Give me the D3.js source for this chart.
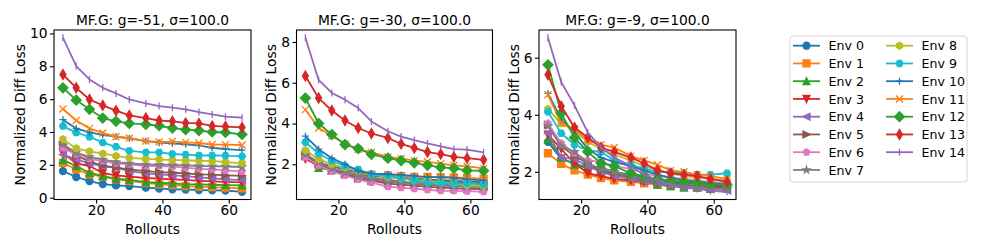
<!DOCTYPE html>
<meta charset="utf-8">
<title>Normalized Diff Loss vs Rollouts</title>
<style>
  body { margin: 0; background: #fff; }
  text { font-family: "DejaVu Sans", sans-serif; fill: #000; }
</style>
<body>
<div id="chart"></div>
<script src="https://cdn.jsdelivr.net/npm/d3@7"></script>
<script>
// ---- data ----
const rollouts = [10, 14, 18, 22, 26, 30, 35, 39, 43, 47, 51, 55, 59, 64];
const envNames = ["Env 0", "Env 1", "Env 2", "Env 3", "Env 4", "Env 5", "Env 6", "Env 7",
                  "Env 8", "Env 9", "Env 10", "Env 11", "Env 12", "Env 13", "Env 14"];
const panelTitles = ["MF.G: g=-51, σ=100.0", "MF.G: g=-30, σ=100.0", "MF.G: g=-9, σ=100.0"];
const xTicks = [20, 40, 60];
const yTicks = [[0, 2, 4, 6, 8, 10], [2, 4, 6, 8], [2, 4, 6]];

const lossG51 = [
  [1.62, 1.26, 1.01, 0.83, 0.75, 0.71, 0.61, 0.56, 0.51, 0.50, 0.47, 0.45, 0.44, 0.36],
  [2.12, 1.72, 1.42, 1.28, 1.12, 1.01, 0.91, 0.82, 0.77, 0.71, 0.67, 0.65, 0.61, 0.57],
  [2.29, 1.93, 1.52, 1.32, 1.16, 1.08, 0.95, 0.91, 0.87, 0.81, 0.81, 0.79, 0.77, 0.75],
  [2.72, 2.09, 1.93, 1.50, 1.36, 1.28, 1.20, 1.16, 1.12, 1.08, 1.03, 0.99, 0.97, 0.93],
  [2.62, 2.33, 2.09, 1.93, 1.83, 1.62, 1.48, 1.42, 1.36, 1.32, 1.24, 1.18, 1.12, 1.07],
  [3.22, 2.54, 2.23, 1.93, 1.83, 1.72, 1.62, 1.56, 1.52, 1.48, 1.42, 1.40, 1.36, 1.33],
  [3.02, 2.64, 2.37, 2.23, 2.09, 2.03, 1.93, 1.93, 1.89, 1.83, 1.76, 1.72, 1.66, 1.60],
  [3.25, 2.74, 2.49, 2.33, 2.17, 2.09, 2.03, 2.01, 1.99, 1.97, 1.93, 1.92, 1.90, 1.87],
  [3.56, 3.00, 2.82, 2.68, 2.54, 2.43, 2.37, 2.33, 2.29, 2.28, 2.25, 2.24, 2.17, 2.11],
  [4.36, 3.96, 3.71, 3.35, 3.10, 2.85, 2.76, 2.76, 2.66, 2.62, 2.58, 2.57, 2.56, 2.52],
  [4.75, 4.22, 3.98, 3.83, 3.72, 3.62, 3.45, 3.35, 3.31, 3.25, 3.18, 3.04, 2.96, 2.90],
  [5.40, 4.70, 4.22, 3.94, 3.71, 3.63, 3.45, 3.39, 3.42, 3.37, 3.33, 3.24, 3.23, 3.21],
  [6.69, 5.94, 5.38, 4.85, 4.65, 4.52, 4.46, 4.38, 4.24, 4.14, 4.09, 4.00, 3.97, 3.85],
  [7.50, 6.69, 5.98, 5.62, 5.30, 5.01, 4.85, 4.70, 4.65, 4.55, 4.52, 4.37, 4.33, 4.28],
  [9.74, 8.01, 7.20, 6.69, 6.35, 5.98, 5.74, 5.58, 5.48, 5.38, 5.21, 5.07, 4.93, 4.87]
];
const lossG30 = [
  [2.45, 2.10, 1.90, 1.75, 1.58, 1.45, 1.40, 1.35, 1.30, 1.25, 1.22, 1.20, 1.15, 1.12],
  [2.45, 2.00, 1.78, 1.62, 1.52, 1.48, 1.45, 1.42, 1.38, 1.38, 1.37, 1.36, 1.33, 1.30],
  [2.40, 1.82, 1.72, 1.60, 1.45, 1.42, 1.38, 1.30, 1.25, 1.20, 1.15, 1.12, 1.08, 1.05],
  [2.25, 1.95, 1.75, 1.55, 1.40, 1.25, 1.15, 1.10, 1.05, 1.00, 0.98, 0.95, 0.92, 0.90],
  [2.50, 2.05, 1.80, 1.60, 1.45, 1.35, 1.25, 1.15, 1.10, 1.05, 1.00, 0.98, 0.95, 0.92],
  [2.45, 2.00, 1.70, 1.50, 1.30, 1.20, 1.05, 1.00, 0.95, 0.90, 0.85, 0.82, 0.80, 0.78],
  [2.35, 1.95, 1.65, 1.45, 1.25, 1.10, 0.90, 0.85, 0.80, 0.75, 0.70, 0.70, 0.68, 0.65],
  [2.50, 2.10, 1.80, 1.60, 1.40, 1.30, 1.15, 1.10, 1.05, 1.00, 0.95, 0.92, 0.90, 0.88],
  [2.69, 2.25, 2.00, 1.84, 1.67, 1.51, 1.38, 1.31, 1.21, 1.18, 1.10, 1.05, 0.98, 0.93],
  [3.08, 2.53, 2.17, 1.92, 1.75, 1.51, 1.43, 1.34, 1.21, 1.10, 1.10, 1.05, 1.05, 1.01],
  [3.38, 2.74, 2.30, 2.00, 1.67, 1.54, 1.51, 1.48, 1.43, 1.37, 1.37, 1.34, 1.26, 1.21],
  [4.68, 3.78, 3.40, 2.99, 2.74, 2.58, 2.36, 2.28, 2.18, 2.12, 2.03, 1.95, 1.90, 1.80],
  [5.25, 4.00, 3.46, 2.97, 2.77, 2.49, 2.30, 2.18, 2.07, 1.95, 1.85, 1.80, 1.70, 1.68],
  [6.33, 5.25, 4.64, 4.15, 3.78, 3.51, 3.29, 3.00, 2.80, 2.60, 2.50, 2.36, 2.30, 2.22],
  [8.21, 6.14, 5.50, 5.17, 4.76, 4.10, 3.62, 3.36, 3.18, 3.02, 2.88, 2.74, 2.72, 2.58]
];
const lossG9 = [
  [3.05, 2.45, 2.30, 2.10, 2.15, 2.00, 1.90, 1.80, 1.70, 1.65, 1.60, 1.60, 1.55, 1.50],
  [2.65, 2.28, 2.05, 1.90, 1.78, 1.70, 1.65, 1.60, 1.55, 1.50, 1.50, 1.45, 1.45, 1.45],
  [3.15, 2.50, 2.25, 2.20, 2.05, 1.90, 1.80, 1.70, 1.55, 1.50, 1.45, 1.45, 1.40, 1.40],
  [3.30, 2.80, 2.30, 1.95, 1.85, 1.75, 1.70, 1.65, 1.60, 1.55, 1.55, 1.50, 1.50, 1.50],
  [3.35, 2.50, 2.45, 2.20, 2.00, 1.85, 1.75, 1.65, 1.60, 1.55, 1.50, 1.45, 1.40, 1.35],
  [3.65, 2.90, 2.55, 2.30, 2.05, 1.95, 1.85, 1.70, 1.65, 1.60, 1.55, 1.50, 1.45, 1.45],
  [3.70, 3.00, 2.65, 2.40, 2.35, 2.20, 2.10, 1.95, 1.85, 1.80, 1.75, 1.70, 1.65, 1.60],
  [3.60, 2.90, 2.70, 2.30, 2.10, 2.00, 1.85, 1.75, 1.65, 1.55, 1.50, 1.45, 1.40, 1.40],
  [4.20, 3.70, 3.45, 3.05, 2.80, 2.60, 2.40, 2.20, 2.05, 1.95, 1.85, 1.80, 1.75, 1.70],
  [4.10, 3.35, 2.95, 2.75, 2.70, 2.40, 2.25, 2.10, 2.00, 2.00, 1.95, 1.90, 1.90, 1.95],
  [4.75, 3.85, 3.40, 2.80, 2.50, 2.35, 2.20, 2.05, 1.90, 1.80, 1.70, 1.65, 1.60, 1.55],
  [4.70, 3.70, 3.50, 3.10, 2.95, 2.85, 2.55, 2.40, 2.25, 2.05, 2.00, 1.90, 1.85, 1.75],
  [5.75, 4.05, 3.20, 2.70, 2.30, 2.20, 1.95, 1.85, 1.75, 1.70, 1.65, 1.60, 1.55, 1.55],
  [5.40, 4.30, 3.55, 3.20, 2.85, 2.70, 2.50, 2.30, 2.05, 1.95, 1.90, 1.85, 1.75, 1.65],
  [6.70, 5.15, 4.33, 3.38, 2.85, 2.50, 2.20, 1.90, 1.70, 1.55, 1.45, 1.40, 1.33, 1.30]
];
const panelData = [lossG51, lossG30, lossG9];

// ---- style ----
const width = 997, height = 249;
const colors = ["#1f77b4", "#ff7f0e", "#2ca02c", "#d62728", "#9467bd",
                "#8c564b", "#e377c2", "#7f7f7f", "#bcbd22", "#17becf",
                "#1f77b4", "#ff7f0e", "#2ca02c", "#d62728", "#9467bd"];
const markers = ["o", "s", "^", "v", "<", ">", "p", "*", "h", "H", "+", "x", "D", "d", "|"];
const fontSize = 13.8;
const legendFont = 12.6;
const ms = 7; // marker size px

// axes boxes [left, right, top, bottom]
const boxes = [[54, 251, 30, 199.5], [296.5, 492.5, 30, 199.5], [539, 736, 30, 199.5]];

const svg = d3.select("#chart").append("svg")
  .attr("width", width).attr("height", height);

function polyPath(n, r, rot) {
  const pts = d3.range(n).map(i => {
    const a = rot + i * 2 * Math.PI / n;
    return [r * Math.sin(a), -r * Math.cos(a)];
  });
  return "M" + pts.map(p => p[0].toFixed(2) + "," + p[1].toFixed(2)).join("L") + "Z";
}

function markerPath(m) {
  const r = ms / 2;
  switch (m) {
    case "o": return `M${r},0A${r},${r} 0 1,1 ${-r},0A${r},${r} 0 1,1 ${r},0Z`;
    case "s": return `M${-r},${-r}H${r}V${r}H${-r}Z`;
    case "^": return `M0,${-r}L${r},${r}L${-r},${r}Z`;
    case "v": return `M0,${r}L${r},${-r}L${-r},${-r}Z`;
    case "<": return `M${-r},0L${r},${-r}L${r},${r}Z`;
    case ">": return `M${r},0L${-r},${-r}L${-r},${r}Z`;
    case "p": return polyPath(5, r, 0);
    case "h": return polyPath(6, r, 0);
    case "H": return polyPath(6, r, Math.PI / 6);
    case "*": {
      const pts = d3.range(10).map(i => {
        const rr = i % 2 ? r * 0.382 : r;
        const a = i * Math.PI / 5;
        return [rr * Math.sin(a), -rr * Math.cos(a)];
      });
      return "M" + pts.map(p => p[0].toFixed(2) + "," + p[1].toFixed(2)).join("L") + "Z";
    }
    case "+": return `M${-r},0H${r}M0,${-r}V${r}`;
    case "x": return `M${-r},${-r}L${r},${r}M${-r},${r}L${r},${-r}`;
    case "D": { const d = ms * 0.707; return `M0,${-d}L${d},0L0,${d}L${-d},0Z`; }
    case "d": { const d = ms * 0.707, w = d * 0.6; return `M0,${-d}L${w},0L0,${d}L${-w},0Z`; }
    case "|": return `M0,${-r}V${r}`;
  }
}
const openMarkers = new Set(["+", "x", "|"]);

function drawMarker(g, m, color, x, y) {
  g.append("path")
    .attr("d", markerPath(m))
    .attr("transform", `translate(${x},${y})`)
    .attr("fill", openMarkers.has(m) ? "none" : color)
    .attr("stroke", color)
    .attr("stroke-width", 1.3);
}

panelData.forEach((series, p) => {
  const [l, r, t, b] = boxes[p];
  const allVals = series.flat();
  const xMin = d3.min(rollouts), xMax = d3.max(rollouts);
  const yMin = d3.min(allVals), yMax = d3.max(allVals);
  const xPad = (xMax - xMin) * 0.05, yPad = (yMax - yMin) * 0.05;

  const x = d3.scaleLinear().domain([xMin - xPad, xMax + xPad]).range([l, r]);
  const y = d3.scaleLinear().domain([yMin - yPad, yMax + yPad]).range([b, t]);

  const g = svg.append("g");
  const plot = g.append("g");

  const line = d3.line().x((d, i) => x(rollouts[i])).y(d => y(d));

  series.forEach((vals, k) => {
    const sg = plot.append("g");
    sg.append("path")
      .datum(vals)
      .attr("d", line)
      .attr("fill", "none")
      .attr("stroke", colors[k])
      .attr("stroke-width", 1.8)
      .attr("stroke-linejoin", "round");
    vals.forEach((v, i) => drawMarker(sg, markers[k], colors[k], x(rollouts[i]), y(v)));
  });

  // axes
  const xAxis = g.append("g")
    .attr("transform", `translate(0,${b})`)
    .call(d3.axisBottom(x).tickValues(xTicks).tickSize(4).tickPadding(2).tickFormat(d3.format("d")));
  const yAxis = g.append("g")
    .attr("transform", `translate(${l},0)`)
    .call(d3.axisLeft(y).tickValues(yTicks[p]).tickSize(4).tickPadding(2.5).tickFormat(d3.format("d")));
  [xAxis, yAxis].forEach(a => {
    a.select(".domain").remove();
    a.selectAll("line").attr("stroke", "#000").attr("stroke-width", 1.1);
    a.selectAll("text").attr("font-size", fontSize).attr("font-family", "DejaVu Sans");
  });

  g.append("rect")
    .attr("x", l).attr("y", t).attr("width", r - l).attr("height", b - t)
    .attr("fill", "none").attr("stroke", "#000").attr("stroke-width", 1.1);

  // title
  g.append("text")
    .attr("x", (l + r) / 2).attr("y", t - 5)
    .attr("text-anchor", "middle").attr("font-size", fontSize)
    .text(panelTitles[p]);

  // x label
  g.append("text")
    .attr("x", (l + r) / 2).attr("y", 233.5)
    .attr("text-anchor", "middle").attr("font-size", fontSize)
    .text("Rollouts");

  // y label, placed left of the widest tick label
  let maxW = 0;
  yAxis.selectAll("text").each(function() { maxW = Math.max(maxW, this.getBBox().width); });
  const lx = l - 4 - 2.5 - maxW - 5;
  g.append("text")
    .attr("transform", `translate(${lx},${(t + b) / 2}) rotate(-90)`)
    .attr("text-anchor", "middle").attr("font-size", fontSize)
    .text("Normalized Diff Loss");
});

// ---- legend ----
const legend = svg.append("g");
legend.append("rect")
  .attr("x", 790).attr("y", 36).attr("width", 177).attr("height", 146)
  .attr("rx", 3).attr("fill", "#fff").attr("stroke", "#d4d4d4").attr("stroke-width", 1);

const rowH = 17.75, row0 = 45.7;
envNames.forEach((name, k) => {
  const col = k < 8 ? 0 : 1;
  const row = k < 8 ? k : k - 8;
  const cy = row0 + row * rowH;
  const x0 = col === 0 ? 793 : 886;
  const item = legend.append("g");
  item.append("line")
    .attr("x1", x0).attr("x2", x0 + 27).attr("y1", cy).attr("y2", cy)
    .attr("stroke", colors[k]).attr("stroke-width", 1.8);
  drawMarker(item, markers[k], colors[k], x0 + 13.5, cy);
  item.append("text")
    .attr("x", x0 + 35.5).attr("y", cy + 4.6)
    .attr("font-size", legendFont)
    .text(name);
});
</script>
</body>
